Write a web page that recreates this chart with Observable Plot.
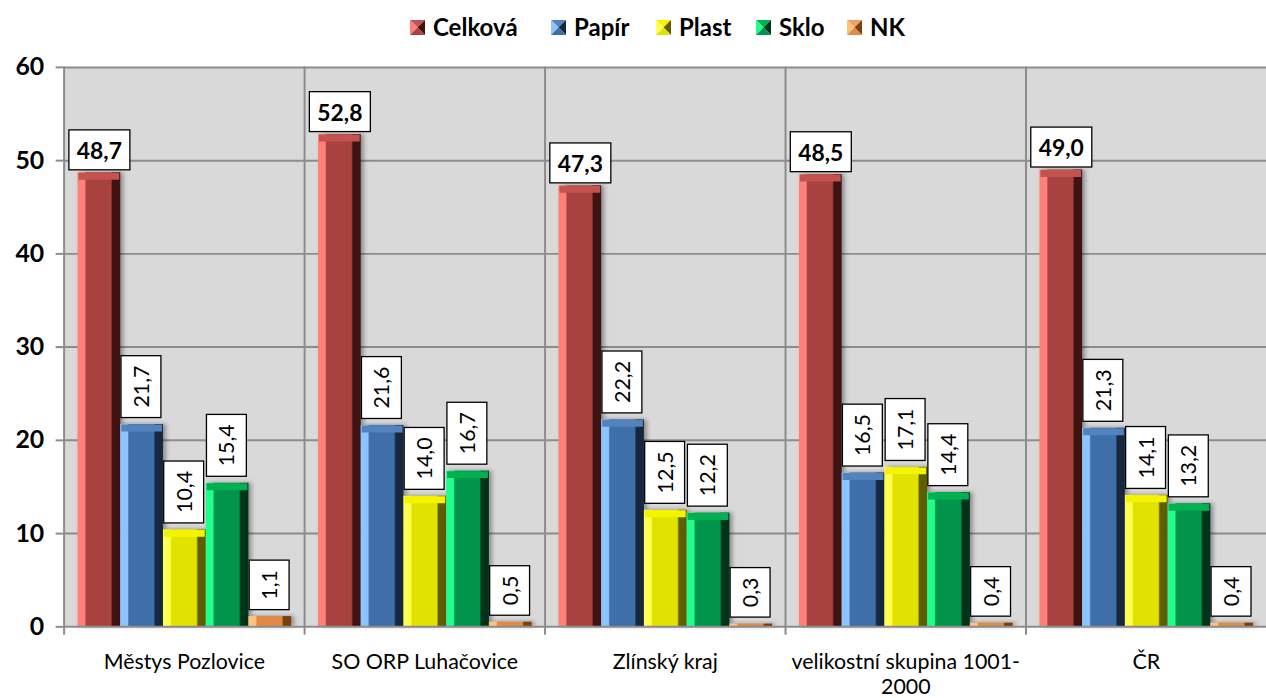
<!DOCTYPE html>
<html>
<head>
<meta charset="utf-8">
<script src="https://cdn.jsdelivr.net/npm/d3@7"></script>
<script src="https://cdn.jsdelivr.net/npm/@observablehq/plot@0.6"></script>
<style>
  html, body { margin: 0; padding: 0; background: #fff; overflow: hidden; }
  body { font-family: Lato, "Open Sans", sans-serif; width: 1266px; height: 698px; position: relative; }
  #legend { position: relative; height: 50px; }
  .item { position: absolute; top: 13px; display: flex; align-items: center; font-weight: bold; font-size: 24px; line-height: 28px; color: #000; }
  .item svg { margin-right: 8px; }
  #chart { position: absolute; left: 0; top: 50px; }
  .bars rect { filter: drop-shadow(3px 0px 2px rgba(0,0,0,0.35)); }
</style>
</head>
<body>
<div id="legend"></div>
<div id="chart"></div>
<script>
// ---- data ----
const regions = ["Městys Pozlovice", "SO ORP Luhačovice", "Zlínský kraj", "velikostní skupina 1001-2000", "ČR"];
const regionLabels = ["Městys Pozlovice", "SO ORP Luhačovice", "Zlínský kraj", "velikostní skupina 1001-\n2000", "ČR"];
const seriesNames = ["Celková", "Papír", "Plast", "Sklo", "NK"];
const celkova = [48.7, 52.8, 47.3, 48.5, 49.0];
const papir   = [21.7, 21.6, 22.2, 16.5, 21.3];
const plast   = [10.4, 14.0, 12.5, 17.1, 14.1];
const sklo    = [15.4, 16.7, 12.2, 14.4, 13.2];
const nk      = [1.1, 0.5, 0.3, 0.4, 0.4];
const yTicks  = [0, 10, 20, 30, 40, 50, 60];

// ---- colours ----
const lightC = ["#ff8079", "#8cc4ff", "#ffff50", "#20ff8a", "#ffc080"];
const faceC  = ["#a8423f", "#3e6fa9", "#e2e200", "#00954a", "#e08a45"];
const darkC  = ["#3e1312", "#16273f", "#5e5e00", "#00341a", "#7a4010"];
const topC   = ["#c4524f", "#5283bf", "#f4f400", "#00b152", "#f5a060"];

const seriesValues = [celkova, papir, plast, sklo, nk];
const rows = [];
seriesNames.forEach((s, j) => regions.forEach((r, i) => rows.push({region: r, series: s, value: seriesValues[j][i], sj: j})));
const fmt = d => d.value.toFixed(1).replace(".", ",");

// ---- legend ----
const legendX = [410, 551, 656, 756, 847];
const legend = document.getElementById("legend");
seriesNames.forEach((s, j) => {
  const div = document.createElement("div");
  div.className = "item";
  div.style.left = legendX[j] + "px";
  div.innerHTML = `<svg width="15" height="15" viewBox="0 0 15 15">
    <polygon points="0,0 15,0 7.5,7.5" fill="${topC[j]}"/>
    <polygon points="0,0 7.5,7.5 0,15" fill="${lightC[j]}"/>
    <polygon points="15,0 15,15 7.5,7.5" fill="${darkC[j]}"/>
    <polygon points="0,15 15,15 7.5,7.5" fill="${faceC[j]}"/>
  </svg><span>${s}</span>`;
  legend.appendChild(div);
});

// ---- marks ----
const grey = "#8c8c8c";
const barMarks = seriesNames.map((s, j) =>
  Plot.barY(rows.filter(d => d.sj === j), {fx: "region", x: "series", y: "value", fill: `url(#grad${j})`, className: "bars"})
);
const capMarks = seriesNames.map((s, j) =>
  Plot.tickY(rows.filter(d => d.sj === j && d.value >= 2), {fx: "region", x: "series", y: "value", stroke: topC[j], strokeWidth: 7, dy: 3.5, insetLeft: 1, insetRight: 1})
);

const chart = Plot.plot({
  width: 1274,
  height: 648,
  marginTop: 17,
  marginBottom: 68,
  marginLeft: 64,
  marginRight: 0,
  style: {fontFamily: "Lato, 'Open Sans', sans-serif", background: "transparent", overflow: "visible"},
  fx: {domain: regions, padding: 0, label: null},
  x: {domain: seriesNames, paddingInner: 0, paddingOuter: 0.3, axis: null},
  y: {domain: [0, 60], label: null},
  marks: [
    Plot.frame({fill: "#d9d9d9", stroke: null}),
    Plot.gridY(yTicks.slice(1), {stroke: grey, strokeOpacity: 1, strokeWidth: 2}),
    Plot.frame({anchor: "left", stroke: grey, strokeWidth: 2, insetBottom: -7}),
    Plot.axisY(yTicks, {tickSize: 8, tickPadding: 12, fontSize: 25, fontWeight: "bold", stroke: grey, strokeWidth: 2, fill: "#000", label: null}),
    ...barMarks,
    ...capMarks,
    Plot.ruleY([0], {stroke: grey, strokeWidth: 2}),
    Plot.axisFx({anchor: "bottom", tickSize: 0, tickPadding: 25, fontSize: 21.5, lineHeight: 1.15, fill: "#000", label: null,
      tickFormat: d => regionLabels[regions.indexOf(d)]}),
    Plot.text(rows.filter(d => d.sj === 0), {fx: "region", x: "series", y: "value", text: fmt, dy: -14, lineAnchor: "bottom",
      fontSize: 23, fontWeight: "bold", fill: "#000", className: "lbl"}),
    Plot.text(rows.filter(d => d.sj !== 0), {fx: "region", x: "series", y: "value", text: fmt, rotate: -90, textAnchor: "start",
      lineAnchor: "middle", dy: -17, fontSize: 21.5, fill: "#000", className: "lbl"})
  ]
});

// gradients for bevelled bars
const defs = `<defs>${seriesNames.map((s, j) => `
  <linearGradient id="grad${j}" x1="0" x2="1" y1="0" y2="0">
    <stop offset="0" stop-color="${lightC[j]}"/>
    <stop offset="0.17" stop-color="${lightC[j]}"/>
    <stop offset="0.2" stop-color="${faceC[j]}"/>
    <stop offset="0.78" stop-color="${faceC[j]}"/>
    <stop offset="0.82" stop-color="${darkC[j]}"/>
    <stop offset="1" stop-color="${darkC[j]}"/>
  </linearGradient>`).join("")}</defs>`;
chart.insertAdjacentHTML("afterbegin", defs);

document.getElementById("chart").appendChild(chart);

// white boxes behind value labels
chart.querySelectorAll("g.lbl text").forEach(t => {
  const b = t.getBBox();
  const rotated = (t.getAttribute("transform") || "").includes("rotate");
  const px = rotated ? 10 : 8, py = rotated ? 7 : 6;
  const r = document.createElementNS("http://www.w3.org/2000/svg", "rect");
  r.setAttribute("x", b.x - px);
  r.setAttribute("y", b.y - py);
  r.setAttribute("width", b.width + 2 * px);
  r.setAttribute("height", b.height + 2 * py);
  r.setAttribute("fill", "#fff");
  r.setAttribute("stroke", "#000");
  r.setAttribute("stroke-width", "1.3");
  if (t.getAttribute("transform")) r.setAttribute("transform", t.getAttribute("transform"));
  t.parentNode.insertBefore(r, t);
});
</script>
</body>
</html>
